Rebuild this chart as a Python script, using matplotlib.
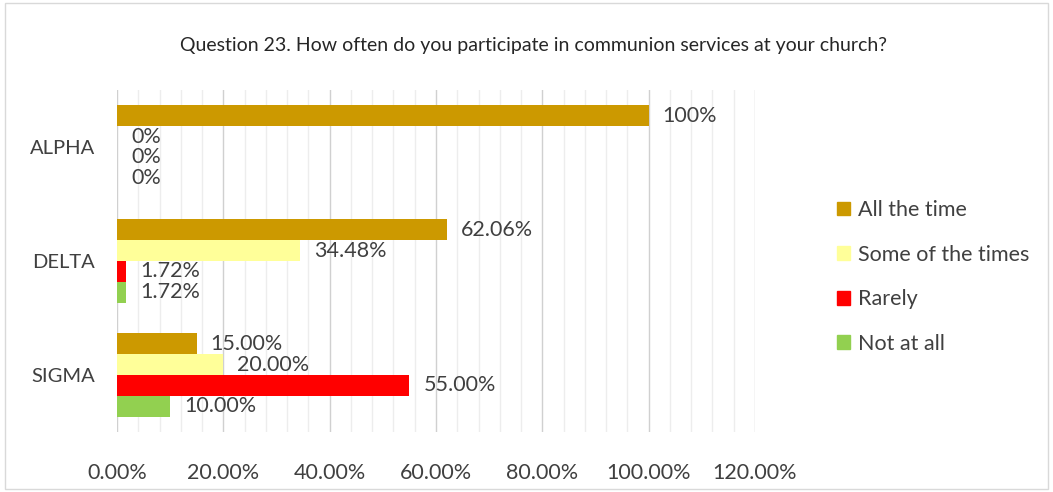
import matplotlib
matplotlib.use("Agg")
import matplotlib.pyplot as plt
import numpy as np
from matplotlib.patches import Rectangle
from matplotlib.ticker import MultipleLocator, FuncFormatter

categories = ["ALPHA", "DELTA", "SIGMA"]
series = ["All the time", "Some of the times", "Rarely", "Not at all"]
all_the_time = [100.0, 62.06, 15.00]
some_of_the_times = [0.0, 34.48, 20.00]
rarely = [0.0, 1.72, 55.00]
not_at_all = [0.0, 1.72, 10.00]
labels = [
    ["100%", "62.06%", "15.00%"],
    ["0%", "34.48%", "20.00%"],
    ["0%", "1.72%", "55.00%"],
    ["0%", "1.72%", "10.00%"],
]
colors = ["#CC9900", "#FFFF99", "#FF0000", "#92D050"]

plt.rcParams["font.family"] = ["Lato", "DejaVu Sans"]
text_col = "#404040"

fig = plt.figure(figsize=(10.53, 4.92), dpi=100)
fig.patches.append(Rectangle((0.005, 0.006), 0.99, 0.988, transform=fig.transFigure,
                             fill=False, edgecolor="#D9D9D9", linewidth=1.0))

ax = fig.add_axes([117 / 1053, 1 - 432 / 492, (755 - 117) / 1053, (432 - 90) / 492])

values = [all_the_time, some_of_the_times, rarely, not_at_all]
n = len(series)
bar_h = 0.183
y_cat = np.arange(len(categories))
for i, (vals, col, name) in enumerate(zip(values, colors, series)):
    ypos = y_cat + (i - (n - 1) / 2) * bar_h
    ax.barh(ypos, vals, height=bar_h, color=col, label=name, zorder=3)
    for y, v, t in zip(ypos, vals, labels[i]):
        ax.annotate(t, (v, y), xytext=(10, 0), textcoords="offset points",
                    va="center", ha="left", fontsize=15.5, color=text_col, zorder=4)

ax.set_xlim(0, 120)
ax.set_ylim(len(categories) - 0.5, -0.5)
ax.set_yticks(y_cat)
ax.set_yticklabels(categories)
ax.xaxis.set_major_locator(MultipleLocator(20))
ax.xaxis.set_minor_locator(MultipleLocator(4))
ax.xaxis.set_major_formatter(FuncFormatter(lambda x, p: f"{x:.2f}%"))
ax.grid(axis="x", which="major", color="#D0D0D0", linewidth=1.0, zorder=0)
ax.grid(axis="x", which="minor", color="#EDEDED", linewidth=1.0, zorder=0)
for s in ax.spines.values():
    s.set_visible(False)
ax.tick_params(axis="both", which="both", length=0, labelcolor=text_col)
ax.tick_params(axis="x", labelsize=15.5, pad=22)
ax.tick_params(axis="y", labelsize=14.5, pad=16)

fig.text(534 / 1053, 1 - 45 / 492, "Question 23. How often do you participate in communion services at your church?",
         ha="center", va="center", fontsize=14, color="#262626")

handles = [Rectangle((0, 0), 1, 1, color=c) for c in colors]
fig.legend(handles, series, loc="center left", bbox_to_anchor=(822 / 1053, 1 - 277 / 492),
           frameon=False, fontsize=15.5, labelcolor=text_col, handlelength=0.6, handleheight=0.6,
           handletextpad=0.35, labelspacing=1.14, borderpad=0.2)

fig.savefig("out.png", dpi=100, facecolor="white")
